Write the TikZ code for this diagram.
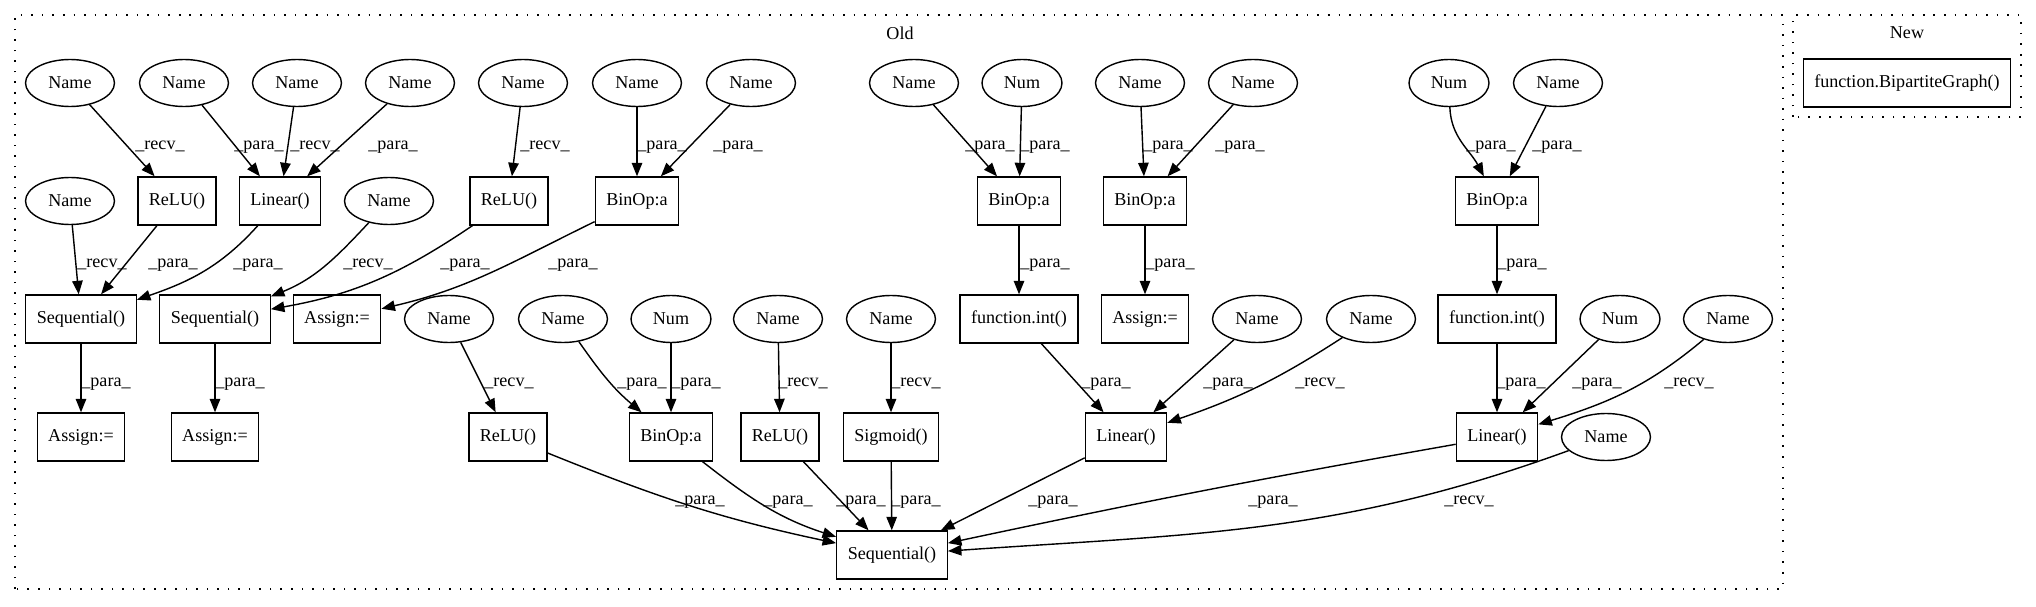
\documentclass[tikz,border=0pt]{standalone}
\usepackage{fontspec}
\setmainfont{Liberation Serif}
\usetikzlibrary{arrows.meta,shapes.geometric}
\tikzset{
    name node/.style={
        draw,ellipse,line width=.8pt,inner sep=0pt,
        minimum width=1.78cm,minimum height=.94cm
    },
    num node/.style={name node,minimum width=1.6cm},
    op node/.style={
        draw,rectangle,line width=.8pt,
        inner xsep=.22cm,inner ysep=0pt,minimum height=.96cm
    },
    >={Triangle[length=.27cm,width=.21cm]},
    edge/.style={->,line width=.8pt},
    lbl/.style={anchor=base,inner sep=0pt},
    cluster/.style={line width=.8pt,dash pattern=on .9pt off 5.1pt},
}

\begin{document}
\begin{tikzpicture}[x=.02cm,y=.02cm,font=\fontsize{10.3}{12}\selectfont]
		\useasboundingbox (0,0) rectangle (2036,606);
		\draw[cluster] (15,17) rectangle (1783,591);
		\draw[cluster] (1793,489) rectangle (2021,591);
		\node (old) at (900,573) {Old};
		\node (new) at (1907,573) {New};
		\node[op node] (bip) at (1907,523) {function.BipartiteGraph()};

		\foreach \n/\x in {n1/70,n2/184,n3/297,n4/410,n5/523,n6/637,n7/751,n8/914,n9/1140,n10/1253,n11/1558}
		\node[name node] (\n) at (\x,523) {Name};
		\foreach \n/\x in {num1/1022,num2/1449}
		\node[num node] (\n) at (\x,523) {Num};

		\node[name node] (n12) at (70,405) {Name};
		\node[op node] (relu1) at (177,405) {ReLU()};
		\node[op node] (lin1) at (280,405) {Linear()};
		\node[name node] (n13) at (389,405) {Name};
		\node[op node] (relu2) at (509,405) {ReLU()};
		\foreach \n/\x in {bin1/637,bin2/1019,bin3/1145,bin4/1497}
		\node[op node] (\n) at (\x,405) {BinOp:a};

		\node[op node] (seq1) at (81,287) {Sequential()};
		\node[op node] (seq2) at (215,287) {Sequential()};
		\node[op node] (asg1) at (337,287) {Assign:=};
		\foreach \n/\x in {n14/449,n15/563,n20/778,n21/891,n16/1257,n17/1371,n18/1728}
		\node[name node] (\n) at (\x,287) {Name};
		\foreach \n/\x in {num3/671,num4/1620}
		\node[num node] (\n) at (\x,287) {Num};
		\node[op node] (fint1) at (1019,287) {function.int()};
		\node[op node] (asg2) at (1145,287) {Assign:=};
		\node[op node] (fint2) at (1497,287) {function.int()};

		\node[op node] (asg3) at (81,169) {Assign:=};
		\node[op node] (asg4) at (215,169) {Assign:=};
		\node[op node] (relu3) at (508,169) {ReLU()};
		\node[op node] (bin5) at (671,169) {BinOp:a};
		\node[op node] (relu4) at (780,169) {ReLU()};
		\node[op node] (sigm) at (891,169) {Sigmoid()};
		\node[op node] (lin2) at (1126,169) {Linear()};
		\node[op node] (lin3) at (1497,169) {Linear()};
		\node[name node] (n19) at (1606,169) {Name};

		\node[op node] (seqbig) at (892,51) {Sequential()};

		\foreach \a/\b/\x/\t in {n1/relu1/160/recv,n2/lin1/259/para,n3/lin1/315/recv,n4/lin1/393/para,
			n5/relu2/545/recv,n6/bin1/662/para,n7/bin1/738/para,n8/bin2/990/para,num1/bin2/1045/para,
			n9/bin3/1168/para,n10/bin3/1240/para,n11/bin4/1557/para}
		\draw[edge] (\a) -- (\b) node[lbl] at (\x,456) {\_\t\_};
		\draw[edge] (num2) to[out=-88,in=118] (bin4) node[lbl] at (1491,456) {\_para\_};

		\foreach \a/\b/\x/\t in {n12/seq1/102/recv,relu1/seq1/173/para,bin2/fint1/1045/para,
			bin3/asg2/1170/para,bin4/fint2/1522/para}
		\draw[edge] (\a) -- (\b) node[lbl] at (\x,338) {\_\t\_};
		\draw[edge] (lin1) to[out=-132,in=19] (seq1) node[lbl] at (258,338) {\_para\_};
		\draw[edge] (n13) to[out=-133,in=22] (seq2) node[lbl] at (368,338) {\_recv\_};
		\draw[edge] (relu2) to[out=-146,in=10] (seq2) node[lbl] at (465,338) {\_para\_};
		\draw[edge] (bin1) to[out=-154,in=13] (asg1) node[lbl] at (573,338) {\_para\_};

		\foreach \a/\b/\x/\t in {seq1/asg3/106/para,seq2/asg4/240/para,n14/relu3/509/recv,
			num3/bin5/696/para,n20/relu4/803/recv,n21/sigm/916/recv,fint1/lin2/1106/para,
			n16/lin2/1228/para,fint2/lin3/1521/para,num4/lin3/1597/para}
		\draw[edge] (\a) -- (\b) node[lbl] at (\x,220) {\_\t\_};
		\draw[edge] (n15) to[out=-55,in=140] (bin5) node[lbl] at (642,220) {\_para\_};
		\draw[edge] (n17) to[out=-147,in=19] (lin2) node[lbl] at (1320,220) {\_recv\_};
		\draw[edge] (n18) to[out=-140,in=17] (lin3) node[lbl] at (1689,220) {\_recv\_};

		\foreach \a/\x in {relu4/861,sigm/916,lin2/1053}
		\draw[edge] (\a) -- (seqbig) node[lbl] at (\x,102) {\_para\_};
		\draw[edge] (relu3) to[out=-22,in=168] (seqbig) node[lbl] at (700,102) {\_para\_};
		\draw[edge] (bin5) to[out=-38,in=162] (seqbig) node[lbl] at (788,102) {\_para\_};
		\draw[edge] (lin3) to[out=190,in=12] (seqbig) node[lbl] at (1273,102) {\_para\_};
		\draw[edge] (n19) to[out=200,in=4] (seqbig) node[lbl] at (1469,102) {\_recv\_};
	\end{tikzpicture}
\end{document}
